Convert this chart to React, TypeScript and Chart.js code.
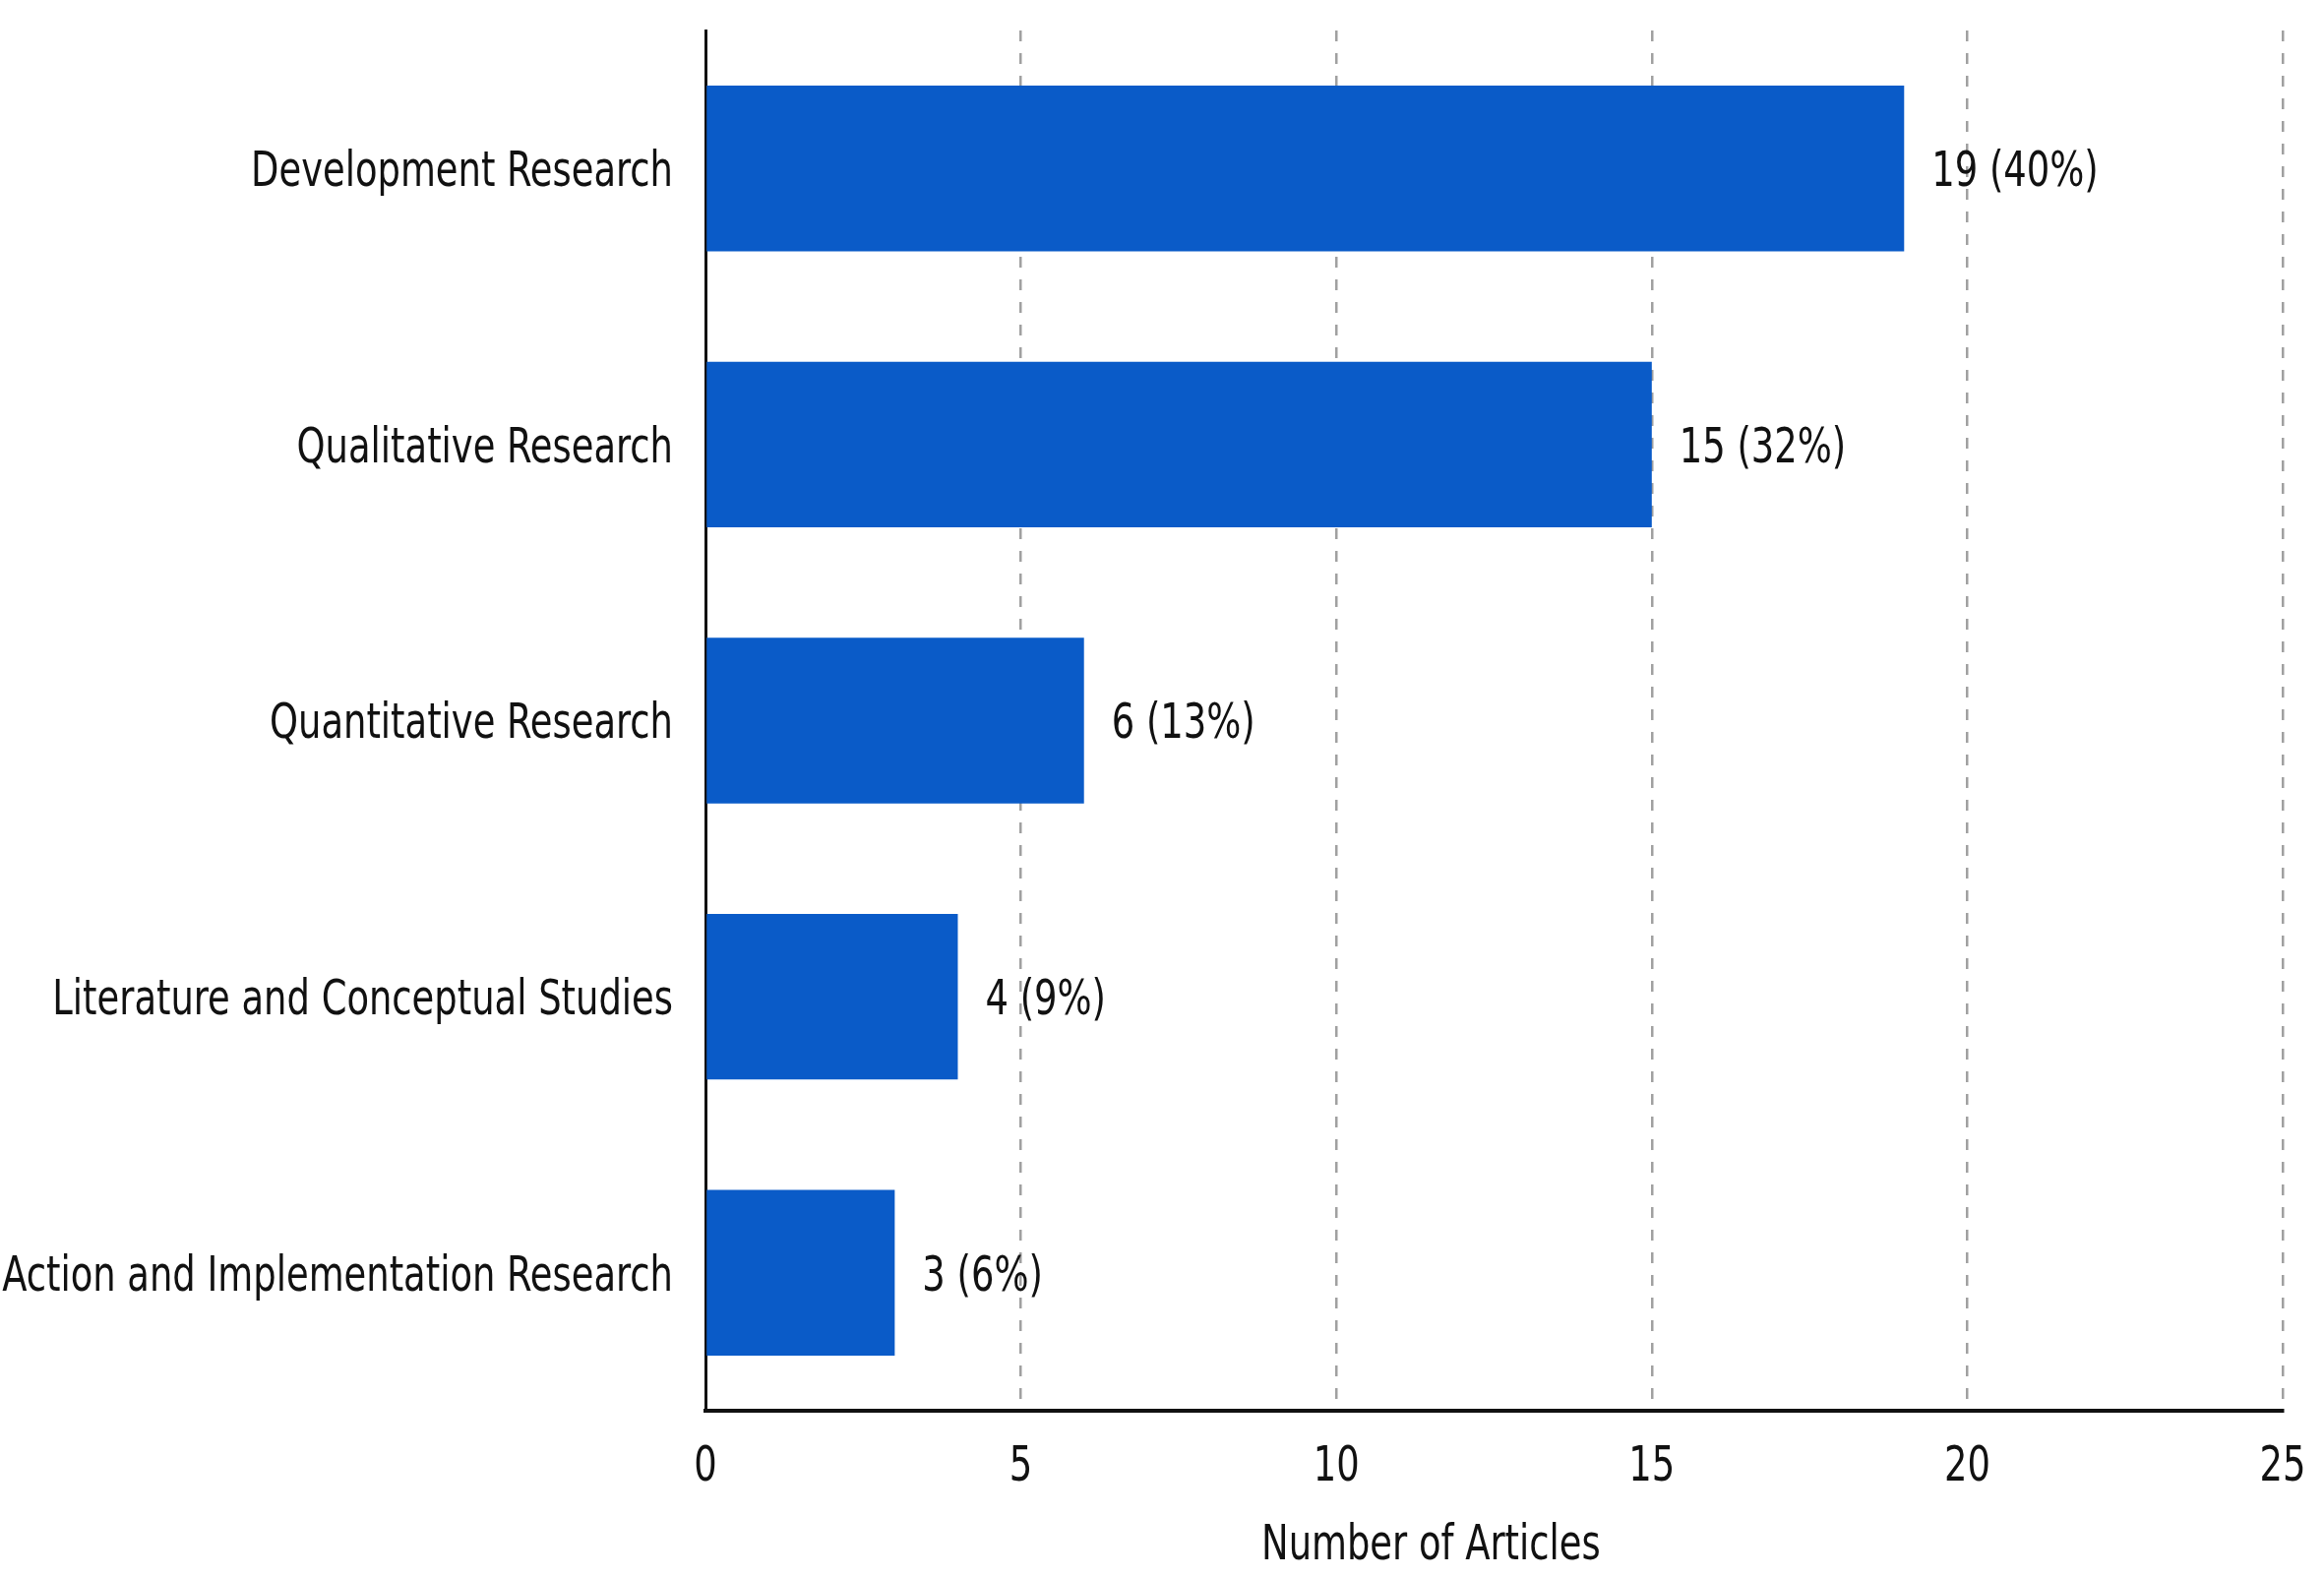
import { useEffect, useRef } from 'react';
import { Chart, registerables } from 'chart.js';

Chart.register(...registerables);

const categories = [
  'Development Research',
  'Qualitative Research',
  'Quantitative Research',
  'Literature and Conceptual Studies',
  'Action and Implementation Research',
];
const articleCounts = [19, 15, 6, 4, 3];
const percentLabels = ['40%', '32%', '13%', '9%', '6%'];
const xTickMax = 25;
const xTickStep = 5;
const xTitle = 'Number of Articles';

const FONT = '"DejaVu Sans Condensed", "DejaVu Sans", sans-serif';
const FONT_SIZE = 50;
const SQUEEZE = 0.82; // the original uses a narrower face than anything installed
const TEXT = '#111111';

// draw text squeezed horizontally around its anchor
function drawText(c: CanvasRenderingContext2D, text: string, x: number, y: number, align: CanvasTextAlign) {
  c.save();
  c.translate(x, y + 5);
  c.scale(SQUEEZE, 1);
  c.font = `${FONT_SIZE}px ${FONT}`;
  c.fillStyle = TEXT;
  c.textAlign = align;
  c.textBaseline = 'middle';
  c.fillText(text, 0, 0);
  c.restore();
}

export default function App() {
  const chartRef = useRef<HTMLCanvasElement>(null);
  const chartInstance = useRef<Chart | null>(null);

  useEffect(() => {
    document.body.style.margin = '0';
    if (!chartRef.current) return;
    const ctx = chartRef.current.getContext('2d');
    if (!ctx) return;

    // bar-end labels like "19 (40%)"
    const valueLabels = {
      id: 'valueLabels',
      afterDatasetsDraw(chart: any) {
        const meta = chart.getDatasetMeta(0);
        meta.data.forEach((bar: any, i: number) => {
          drawText(chart.ctx, `${articleCounts[i]} (${percentLabels[i]})`, bar.x + 28, bar.y, 'left');
        });
      },
    };

    // tick labels and axis title, drawn here so the text can be narrowed
    const axisText = {
      id: 'axisText',
      afterDraw(chart: any) {
        const c = chart.ctx;
        const area = chart.chartArea;
        const xs = chart.scales.x;
        const ys = chart.scales.y;
        ys.ticks.forEach((_t: any, i: number) => {
          drawText(c, String(chart.data.labels[i]), area.left - 33, ys.getPixelForTick(i), 'right');
        });
        xs.ticks.forEach((t: any, i: number) => {
          drawText(c, String(t.value), xs.getPixelForTick(i), 1487, 'center');
        });
        drawText(c, xTitle, area.left + (area.right - area.left) * 0.46, 1567, 'center');
      },
    };

    if (chartInstance.current) chartInstance.current.destroy();

    chartInstance.current = new Chart(ctx, {
      type: 'bar',
      data: {
        labels: categories,
        datasets: [
          {
            data: articleCounts,
            backgroundColor: '#0A5BC8',
            borderWidth: 0,
            barPercentage: 0.6,
            categoryPercentage: 1,
          },
        ],
      },
      options: {
        indexAxis: 'y',
        animation: false,
        responsive: true,
        maintainAspectRatio: false,
        layout: { padding: { top: 31, right: 42, left: 0, bottom: 0 } },
        plugins: {
          legend: { display: false },
          tooltip: { enabled: false },
        },
        scales: {
          x: {
            min: 0,
            max: xTickMax,
            ticks: { stepSize: xTickStep, display: false },
            grid: {
              drawTicks: false,
              lineWidth: 2.5,
              color: (context: any) => (context.tick && context.tick.value === 0 ? 'rgba(0,0,0,0)' : '#a0a0a0'),
            },
            border: { display: true, color: TEXT, width: 4, dash: [11, 12] },
            afterFit(scale: any) {
              scale.height = 169;
            },
          },
          y: {
            ticks: { display: false },
            grid: { display: false, drawTicks: false },
            border: { display: true, color: TEXT, width: 3 },
            afterFit(scale: any) {
              scale.width = 717;
            },
          },
        },
      },
      plugins: [valueLabels, axisText],
    });

    return () => {
      if (chartInstance.current) {
        chartInstance.current.destroy();
        chartInstance.current = null;
      }
    };
  }, []);

  return (
    <div style={{ width: 2362, height: 1603, position: 'relative', background: '#ffffff' }}>
      <canvas ref={chartRef} />
    </div>
  );
}
